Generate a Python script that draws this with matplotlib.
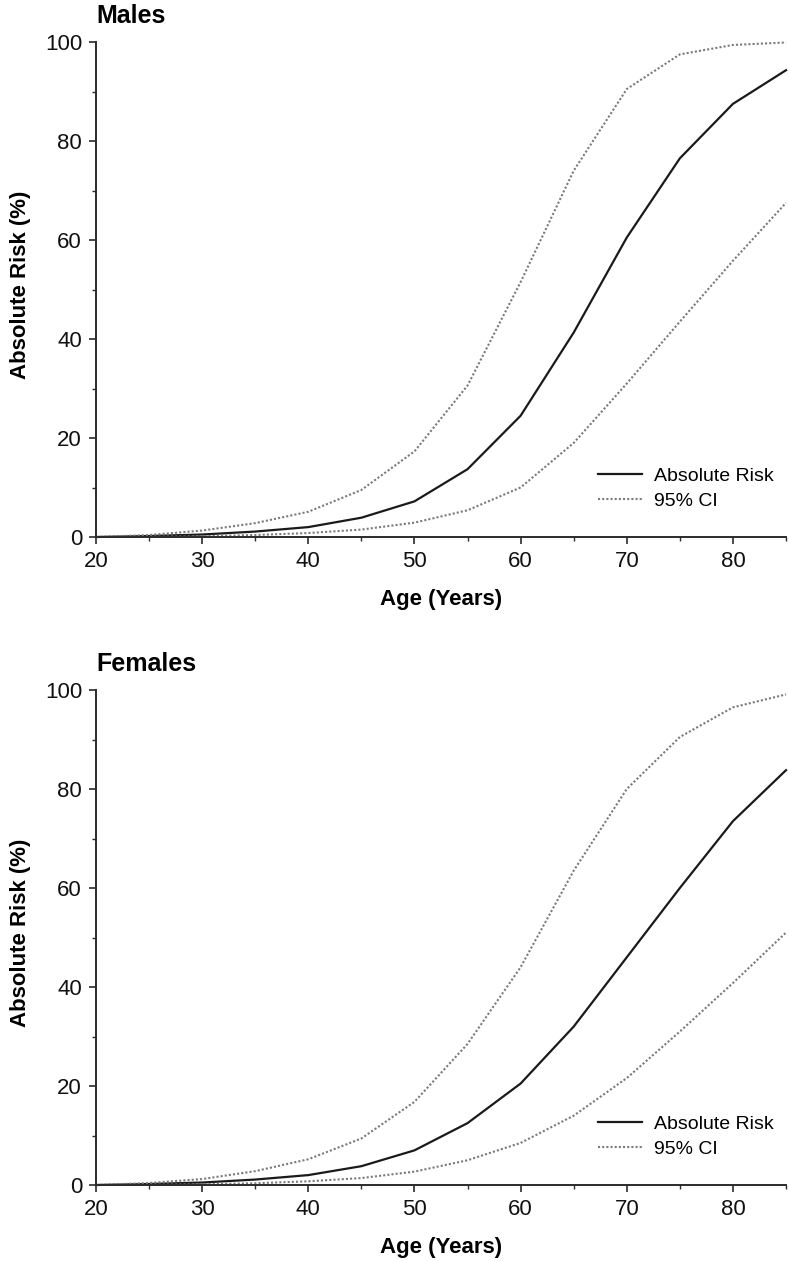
import matplotlib

matplotlib.use("Agg")
import matplotlib.pyplot as plt
from matplotlib.ticker import MultipleLocator

plt.rcParams["font.family"] = ["Liberation Sans", "DejaVu Sans"]

ages = [20, 25, 30, 35, 40, 45, 50, 55, 60, 65, 70, 75, 80, 85]

male_risk = [0, 0.2, 0.5, 1.1, 2.0, 3.9, 7.2, 13.7, 24.5, 41.3, 60.5, 76.5, 87.5, 94.3]
male_upper = [0, 0.4, 1.3, 2.8, 5.1, 9.5, 17.3, 30.6, 51.5, 74.0, 90.5, 97.5, 99.4, 99.9]
male_lower = [0, 0.05, 0.15, 0.4, 0.8, 1.5, 2.9, 5.4, 10.0, 19.0, 31.0, 43.5, 55.8, 67.5]

female_risk = [0, 0.2, 0.5, 1.1, 2.0, 3.8, 7.0, 12.5, 20.5, 32.0, 46.0, 60.0, 73.5, 83.8]
female_upper = [0, 0.4, 1.2, 2.8, 5.2, 9.4, 16.8, 28.5, 44.0, 63.5, 80.0, 90.5, 96.5, 99.1]
female_lower = [0, 0.05, 0.15, 0.35, 0.75, 1.4, 2.7, 5.0, 8.5, 14.0, 21.6, 31.0, 40.8, 51.0]

panels = [
    ("Males", male_risk, male_upper, male_lower),
    ("Females", female_risk, female_upper, female_lower),
]

W, H = 789, 1261
fig = plt.figure(figsize=(W / 100, H / 100), dpi=100)

# axes boxes in pixels: left, top, right, bottom
boxes = [(96, 42, 786, 537), (96, 690, 786, 1185)]

axis_col = "#2b2b2b"
ci_col = "#7a7a7a"

for (title, risk, upper, lower), (l, t, r, b) in zip(panels, boxes):
    ax = fig.add_axes([l / W, 1 - b / H, (r - l) / W, (b - t) / H])

    ax.plot(ages, risk, color="#1a1a1a", linewidth=1.6, label="Absolute Risk")
    ax.plot(ages, upper, color=ci_col, linewidth=1.5, linestyle=(0, (1, 1)), label="95% CI")
    ax.plot(ages, lower, color=ci_col, linewidth=1.5, linestyle=(0, (1, 1)))

    ax.set_xlim(20, 85)
    ax.set_ylim(0, 100)
    ax.xaxis.set_major_locator(MultipleLocator(10))
    ax.xaxis.set_minor_locator(MultipleLocator(5))
    ax.yaxis.set_major_locator(MultipleLocator(20))
    ax.yaxis.set_minor_locator(MultipleLocator(10))
    ax.set_xticks(range(20, 81, 10))

    for side in ("top", "right"):
        ax.spines[side].set_visible(False)
    for side in ("left", "bottom"):
        ax.spines[side].set_linewidth(1.4)
        ax.spines[side].set_color(axis_col)
        ax.spines[side].set_clip_on(False)

    ax.tick_params(which="major", direction="out", length=5, width=1.2,
                   color=axis_col, labelsize=16, pad=5, labelcolor="#111111")
    ax.tick_params(which="minor", direction="out", length=3, width=1.0, color=axis_col)

    for line in ax.lines:
        line.set_clip_on(False)

    ax.set_title(title, loc="left", fontsize=18, fontweight="bold", pad=14)
    ax.set_xlabel("Age (Years)", fontsize=16, fontweight="bold")
    ax.set_ylabel("Absolute Risk (%)", fontsize=16, fontweight="bold")
    ax.xaxis.set_label_coords(0.5, -0.105)
    ax.yaxis.set_label_coords(-0.094, 0.51)

    ax.legend(
        loc="center left",
        bbox_to_anchor=(0.727, 0.098),
        frameon=False,
        fontsize=14,
        handlelength=2.3,
        handletextpad=0.6,
        borderpad=0,
        borderaxespad=0,
        labelspacing=0.4,
    )

fig.savefig("out.png", dpi=100)
